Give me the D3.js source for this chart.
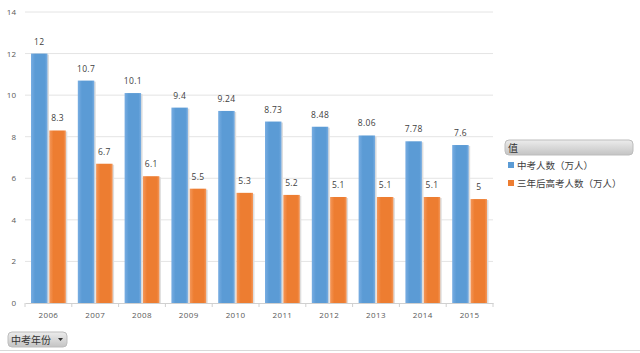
<!DOCTYPE html>
<html lang="zh">
<head>
<meta charset="utf-8">
<title>中考人数</title>
<script src="https://d3js.org/d3.v7.min.js"></script>
<style>
  body { margin: 0; background: #fff; font-family: "Noto Sans CJK SC", "Open Sans", sans-serif; }
</style>
</head>
<body>
<div id="chart"></div>
<script>
const years = ["2006", "2007", "2008", "2009", "2010", "2011", "2012", "2013", "2014", "2015"];
const zhongkao = [12, 10.7, 10.1, 9.4, 9.24, 8.73, 8.48, 8.06, 7.78, 7.6];
const gaokao = [8.3, 6.7, 6.1, 5.5, 5.3, 5.2, 5.1, 5.1, 5.1, 5];
const seriesNames = ["中考人数（万人）", "三年后高考人数（万人）"];
const yTicks = [0, 2, 4, 6, 8, 10, 12, 14];

const W = 640, H = 353;
const margin = {top: 12, right: 147, bottom: 50, left: 25};
const width = W - margin.left - margin.right,
      height = H - margin.top - margin.bottom;

const svg = d3.select("#chart").append("svg")
  .attr("width", W).attr("height", H)
  .style("font-family", "'Noto Sans CJK SC', 'Open Sans', sans-serif");

// soft bar gradients, lighter at the edges
const defs = svg.append("defs");
const grads = [["gBlue", "#5b9bd5", "#78ade2"], ["gOrange", "#ed7d31", "#f4975a"]];
grads.forEach(([id, a, b]) => {
  const lg = defs.append("linearGradient").attr("id", id).attr("x1", 0).attr("x2", 1).attr("y1", 0).attr("y2", 0);
  lg.append("stop").attr("offset", "0%").attr("stop-color", b);
  lg.append("stop").attr("offset", "25%").attr("stop-color", a);
  lg.append("stop").attr("offset", "85%").attr("stop-color", a);
  lg.append("stop").attr("offset", "100%").attr("stop-color", b);
});
const btn = defs.append("linearGradient").attr("id", "gBtn").attr("x1", 0).attr("x2", 0).attr("y1", 0).attr("y2", 1);
btn.append("stop").attr("offset", "0%").attr("stop-color", "#ececec");
btn.append("stop").attr("offset", "100%").attr("stop-color", "#c4c4c4");

const g = svg.append("g").attr("transform", `translate(${margin.left},${margin.top})`);

const x = d3.scaleBand().domain(years).range([0, width]);
const xs = d3.scaleBand().domain([0, 1]).range([6, x.bandwidth() - 6]).paddingInner(0.1);
const y = d3.scaleLinear().domain([0, 14]).range([height, 0]);

// grid
g.append("g").selectAll("line").data(yTicks.slice(1)).join("line")
  .attr("x1", 0).attr("x2", width)
  .attr("y1", d => y(d)).attr("y2", d => y(d))
  .attr("stroke", "#e4e4e4");

// y axis labels
const yAxis = g.append("g").call(d3.axisLeft(y).tickValues(yTicks).tickSize(0).tickPadding(9));
yAxis.select(".domain").remove();
yAxis.selectAll("text").attr("fill", "#595959").style("font-size", "8px").style("font-family", "'Open Sans', sans-serif");

// bars
const series = [zhongkao, gaokao];
const fills = ["url(#gBlue)", "url(#gOrange)"];
series.forEach((vals, i) => {
  const sg = g.append("g");
  sg.selectAll("rect.shadow").data(vals).join("rect")
    .attr("x", (d, j) => x(years[j]) + xs(i) + 1.5)
    .attr("y", d => y(d) + 1)
    .attr("width", xs.bandwidth())
    .attr("height", d => height - y(d) - 1)
    .attr("fill", "#dedede");
  sg.selectAll("rect.bar").data(vals).join("rect")
    .attr("x", (d, j) => x(years[j]) + xs(i))
    .attr("y", d => y(d))
    .attr("width", xs.bandwidth())
    .attr("height", d => height - y(d))
    .attr("fill", fills[i]);
  sg.selectAll("text").data(vals).join("text")
    .attr("x", (d, j) => x(years[j]) + xs(i) + xs.bandwidth() / 2)
    .attr("y", d => y(d) - 9)
    .attr("text-anchor", "middle")
    .attr("fill", "#404040")
    .style("font-size", "8.5px")
    .style("letter-spacing", "0.3px")
    .style("font-family", "'Open Sans', sans-serif")
    .text(d => d);
});

// x axis
const xAxis = g.append("g").attr("transform", `translate(0,${height})`)
  .call(d3.axisBottom(x).tickSizeOuter(0).tickSize(0).tickPadding(9));
xAxis.select(".domain").attr("stroke", "#d0d0d0");
xAxis.selectAll("text").attr("fill", "#595959").style("font-size", "8px")
  .style("letter-spacing", "0.4px").style("font-family", "'Open Sans', sans-serif");
g.append("g").selectAll("line").data(years.concat(["end"])).join("line")
  .attr("x1", d => d === "end" ? width : x(d)).attr("x2", d => d === "end" ? width : x(d))
  .attr("y1", height).attr("y2", height + 4)
  .attr("stroke", "#d0d0d0");

// legend
const leg = svg.append("g").attr("transform", "translate(505,140)");
leg.append("rect").attr("width", 128).attr("height", 15).attr("rx", 4)
  .attr("fill", "url(#gBtn)").attr("stroke", "#bdbdbd");
leg.append("text").attr("x", 3).attr("y", 11.5).attr("fill", "#333").style("font-size", "10px").text("值");
seriesNames.forEach((n, i) => {
  const it = leg.append("g").attr("transform", `translate(3,${22 + i * 18})`);
  it.append("rect").attr("width", 6).attr("height", 6).attr("fill", i ? "#ed7d31" : "#5b9bd5");
  it.append("text").attr("x", 9).attr("y", 6.5).attr("fill", "#404040").style("font-size", "9.5px").text(n);
});

// field button
const fb = svg.append("g").attr("transform", "translate(8,332)");
fb.append("rect").attr("width", 59).attr("height", 15).attr("rx", 4)
  .attr("fill", "url(#gBtn)").attr("stroke", "#bdbdbd");
fb.append("text").attr("x", 3).attr("y", 11.5).attr("fill", "#333").style("font-size", "10px").text("中考年份");
fb.append("path").attr("d", "M50,6 L55,6 L52.5,9 Z").attr("fill", "#333");

// bottom separator
svg.append("line").attr("x1", 0).attr("x2", W).attr("y1", 350.5).attr("y2", 350.5).attr("stroke", "#d9d9d9");
</script>
</body>
</html>
